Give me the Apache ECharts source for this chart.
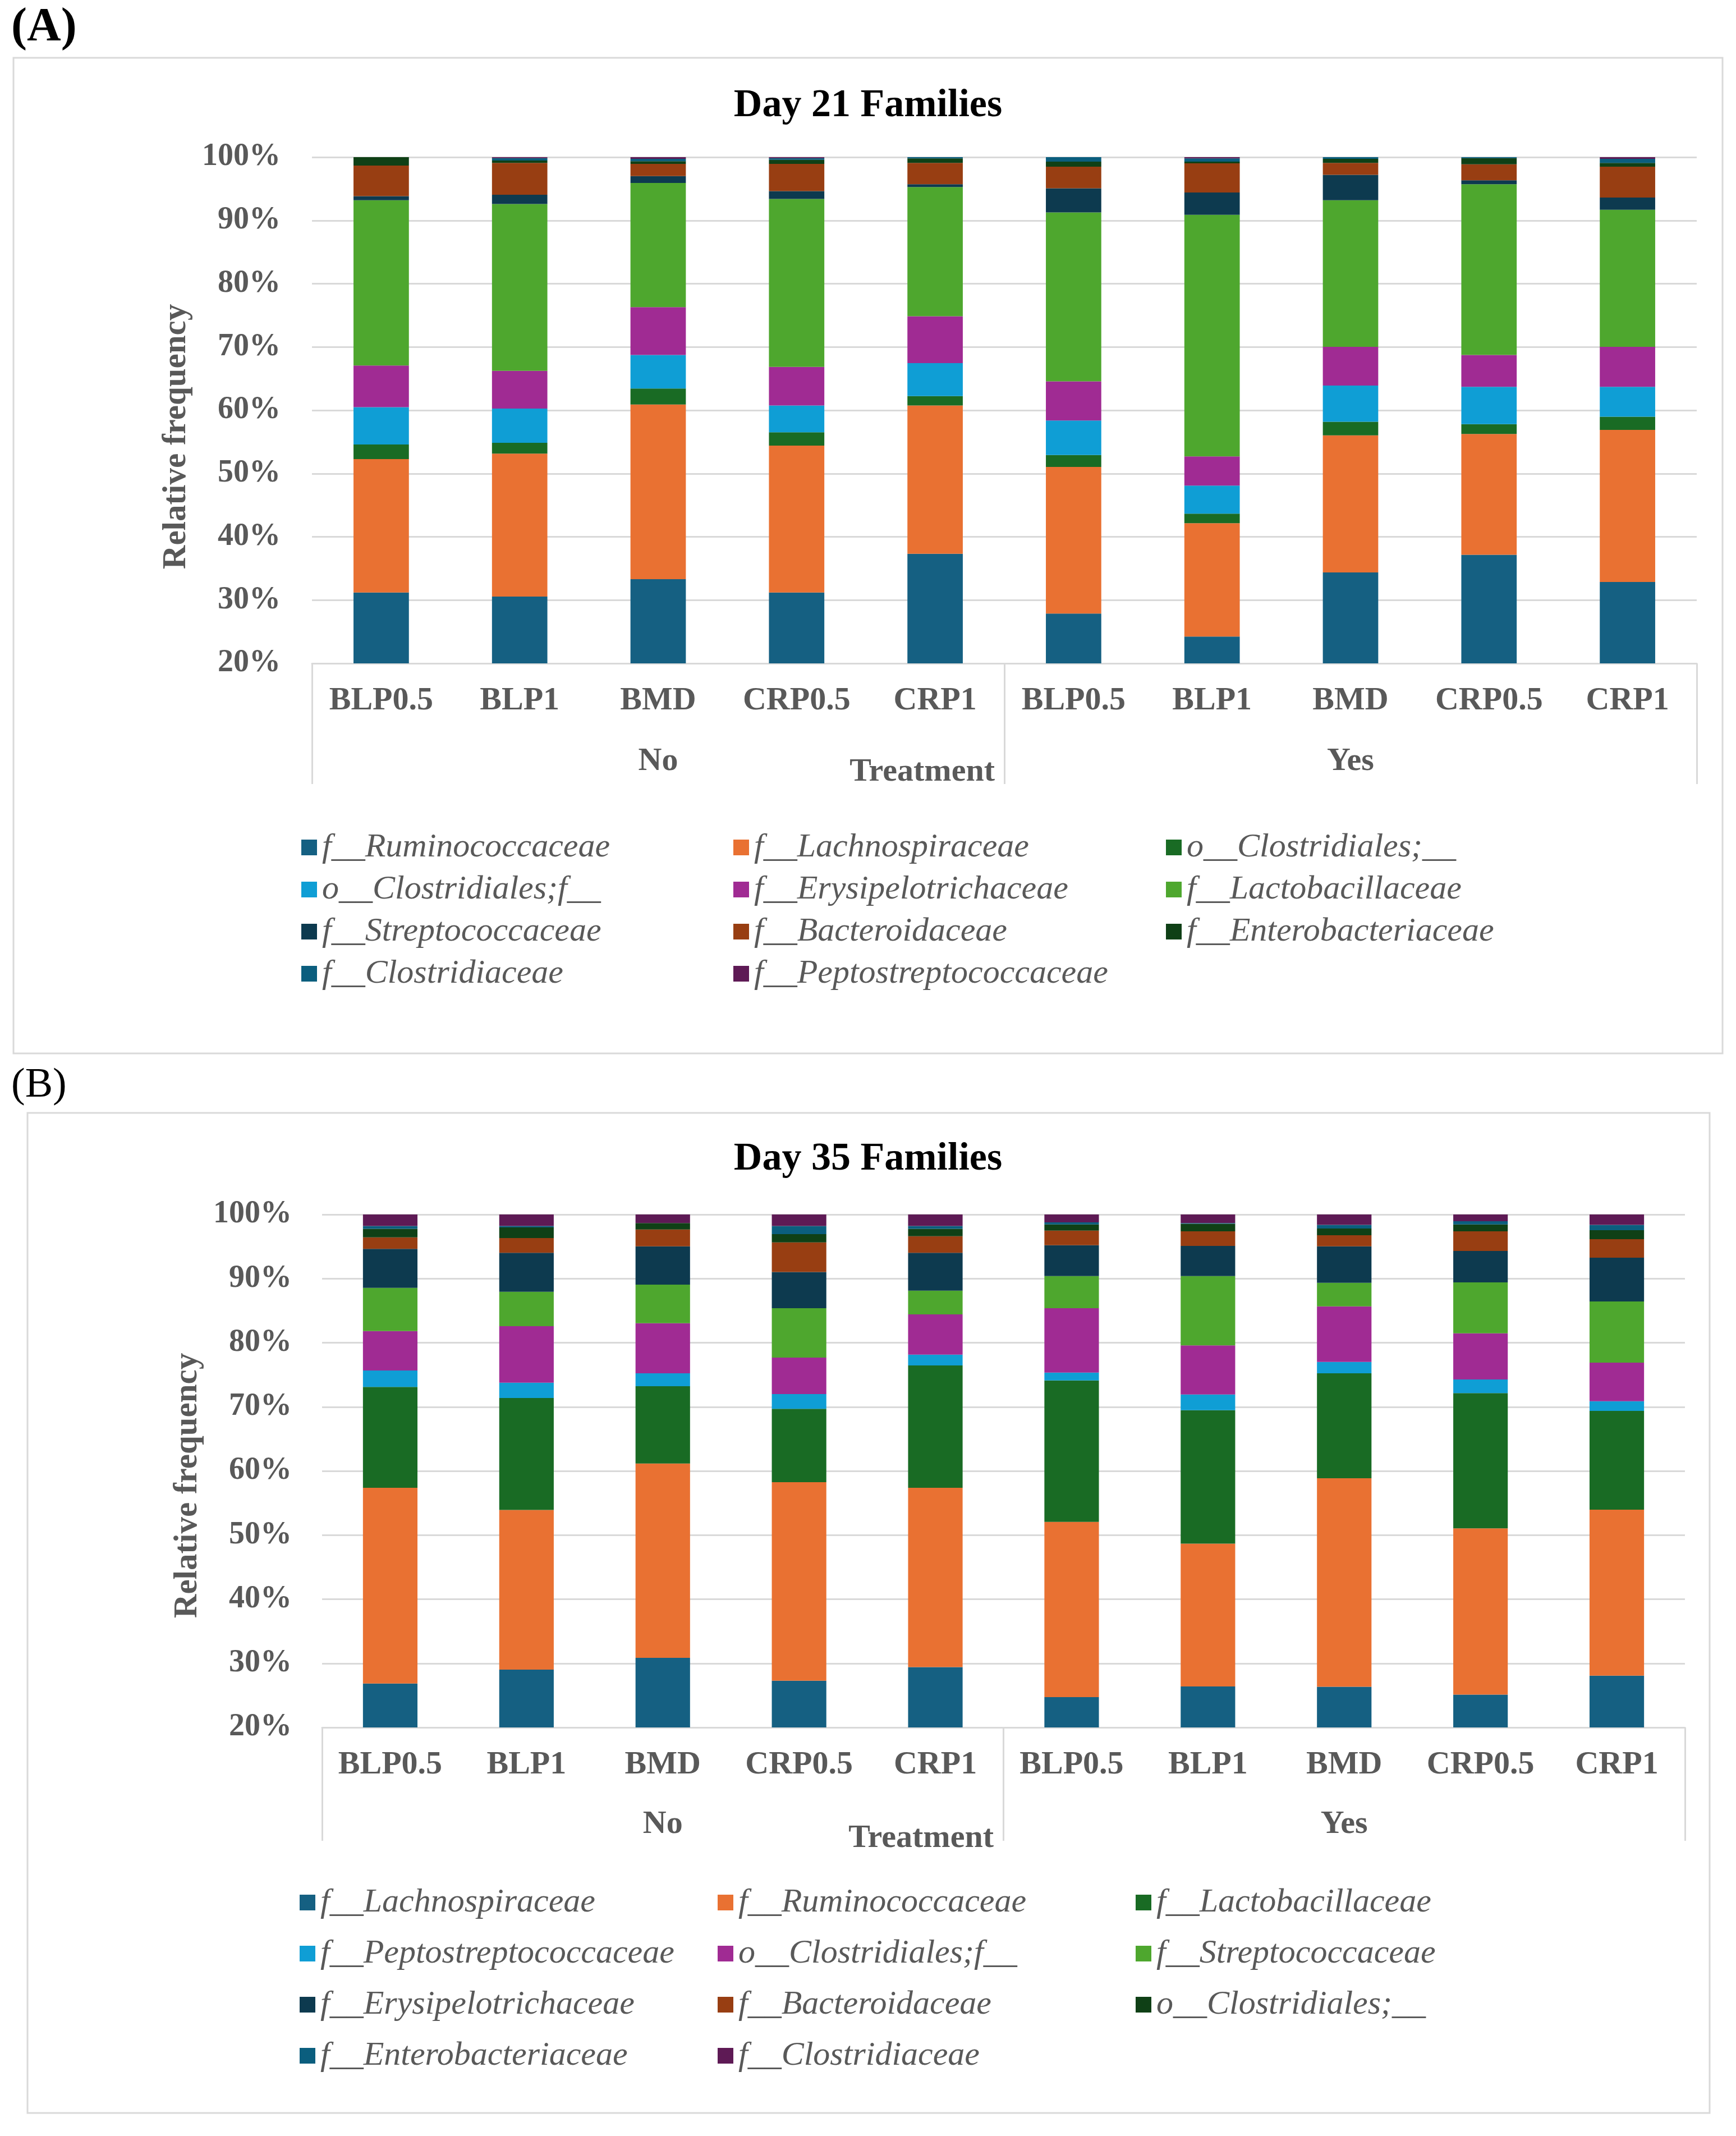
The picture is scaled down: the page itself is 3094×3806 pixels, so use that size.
<!DOCTYPE html>
<html>
<head>
<meta charset="utf-8">
<script src="https://cdn.jsdelivr.net/npm/echarts@6/dist/echarts.min.js"></script>
<style>
  html, body { margin: 0; padding: 0; background: #ffffff; }
  #chartA { position: absolute; left: 0; top: 0; width: 3094px; height: 1890px; }
  #chartB { position: absolute; left: 0; top: 1890px; width: 3094px; height: 1916px; }
</style>
</head>
<body>
<div id="chartA"></div>
<div id="chartB"></div>
<script>
// ---------- DATA ----------
const categories = ['BLP0.5', 'BLP1', 'BMD', 'CRP0.5', 'CRP1', 'BLP0.5', 'BLP1', 'BMD', 'CRP0.5', 'CRP1'];
const groups = ['No', 'Yes'];
const yTicks = [20, 30, 40, 50, 60, 70, 80, 90, 100];

// Panel A: Day 21 Families (stack order bottom -> top)
const seriesNamesA = ['f__Ruminococcaceae', 'f__Lachnospiraceae', 'o__Clostridiales;__', 'o__Clostridiales;f__',
  'f__Erysipelotrichaceae', 'f__Lactobacillaceae', 'f__Streptococcaceae', 'f__Bacteroidaceae',
  'f__Enterobacteriaceae', 'f__Clostridiaceae', 'f__Peptostreptococcaceae'];
const a_Ruminococcaceae = [31.2, 30.56, 33.3, 31.2, 37.32, 27.88, 24.24, 34.37, 37.16, 32.87];
const a_Lachnospiraceae = [21.08, 22.58, 27.61, 23.22, 23.43, 23.17, 17.9, 21.66, 19.09, 24.02];
const a_oClostridiales = [2.3, 1.71, 2.52, 2.09, 1.5, 1.87, 1.51, 2.15, 1.55, 2.09];
const a_oClostridialesF = [5.9, 5.42, 5.31, 4.24, 5.2, 5.47, 4.45, 5.73, 5.9, 4.72];
const a_Erysipelotrichaceae = [6.6, 5.95, 7.56, 6.11, 7.4, 6.17, 4.61, 6.12, 5.04, 6.33];
const a_Lactobacillaceae = [26.11, 26.38, 19.62, 26.54, 20.43, 26.7, 38.17, 23.16, 26.97, 21.66];
const a_Streptococcaceae = [0.64, 1.45, 1.08, 1.24, 0.43, 3.81, 3.54, 4.02, 0.64, 1.93];
const a_Bacteroidaceae = [4.83, 5.04, 1.93, 4.29, 3.38, 3.43, 4.61, 1.88, 2.52, 4.88];
const a_Enterobacteriaceae = [1.34, 0.37, 0.43, 0.64, 0.7, 0.8, 0.27, 0.64, 0.97, 0.59];
const a_Clostridiaceae = [0, 0.38, 0.37, 0.27, 0.21, 0.7, 0.49, 0.27, 0.16, 0.64];
const a_Peptostreptococcaceae = [0, 0.16, 0.27, 0.16, 0, 0, 0.21, 0, 0, 0.27];

// Panel B: Day 35 Families (stack order bottom -> top)
const seriesNamesB = ['f__Lachnospiraceae', 'f__Ruminococcaceae', 'f__Lactobacillaceae', 'f__Peptostreptococcaceae',
  'o__Clostridiales;f__', 'f__Streptococcaceae', 'f__Erysipelotrichaceae', 'f__Bacteroidaceae',
  'o__Clostridiales;__', 'f__Enterobacteriaceae', 'f__Clostridiaceae'];
const b_Lachnospiraceae = [26.84, 29.02, 30.86, 27.29, 29.41, 24.72, 26.4, 26.34, 25.11, 28.07];
const b_Ruminococcaceae = [30.53, 24.89, 30.3, 30.97, 27.96, 27.34, 22.26, 32.53, 25.95, 25.89];
const b_Lactobacillaceae = [15.73, 17.46, 12.05, 11.44, 19.08, 22.05, 20.82, 16.35, 21.09, 15.4];
const b_Peptostreptococcaceae = [2.57, 2.4, 2.01, 2.29, 1.68, 1.22, 2.45, 1.79, 2.12, 1.51];
const b_oClostridialesF = [6.14, 8.82, 7.82, 5.69, 6.3, 10.05, 7.65, 8.65, 7.2, 6.03];
const b_Streptococcaceae = [6.75, 5.36, 6.02, 7.7, 3.68, 5.02, 10.82, 3.68, 7.93, 9.54];
const b_Erysipelotrichaceae = [6.08, 6.08, 5.97, 5.64, 5.92, 4.8, 4.69, 5.69, 4.91, 6.81];
const b_Bacteroidaceae = [1.79, 2.29, 2.63, 4.63, 2.57, 2.29, 2.29, 1.73, 3.07, 2.9];
const b_oClostridiales = [1.34, 1.67, 1.0, 1.28, 1.17, 0.95, 1.17, 1.06, 1.06, 1.39];
const b_Enterobacteriaceae = [0.44, 0.22, 0, 1.28, 0.44, 0.33, 0.11, 0.56, 0.5, 0.84];
const b_Clostridiaceae = [1.79, 1.79, 1.34, 1.79, 1.79, 1.23, 1.34, 1.62, 1.06, 1.62];

const palette = ['#156082', '#E97132', '#196B24', '#0F9ED5', '#A02B93', '#4EA72E',
  '#0D3A4F', '#983E12', '#0F4016', '#0B5E7E', '#5E1A55'];

const valuesA = [a_Ruminococcaceae, a_Lachnospiraceae, a_oClostridiales, a_oClostridialesF, a_Erysipelotrichaceae,
  a_Lactobacillaceae, a_Streptococcaceae, a_Bacteroidaceae, a_Enterobacteriaceae, a_Clostridiaceae, a_Peptostreptococcaceae];
const valuesB = [b_Lachnospiraceae, b_Ruminococcaceae, b_Lactobacillaceae, b_Peptostreptococcaceae, b_oClostridialesF,
  b_Streptococcaceae, b_Erysipelotrichaceae, b_Bacteroidaceae, b_oClostridiales, b_Enterobacteriaceae, b_Clostridiaceae];

// ---------- BUILD ----------
const FONT = "'Liberation Serif', 'Times New Roman', serif";
const GRAY = '#595959';
const LINE = '#d9d9d9';

function build(cfg) {
  const series = cfg.names.map((n, i) => ({
    name: n, type: 'bar', stack: 'total', xAxisIndex: 0, yAxisIndex: 0,
    barCategoryGap: '60%', data: cfg.values[i],
    itemStyle: { color: palette[i] }
  }));
  const legends = cfg.legendCols.map((col, k) => ({
    orient: 'vertical', left: cfg.legendLeft[k], top: cfg.legendTop,
    data: col.map(i => cfg.names[i]), padding: 0,
    itemWidth: 28, itemHeight: 28, itemGap: cfg.legendGap, icon: 'rect', selectedMode: false,
    textStyle: { fontFamily: FONT, fontStyle: 'italic', fontSize: 60, color: GRAY, lineHeight: 60, padding: [0, 0, 0, 4] }
  }));
  return {
    animation: false,
    backgroundColor: '#ffffff',
    textStyle: { fontFamily: FONT },
    title: {
      text: cfg.title, left: 'center', top: cfg.titleTop, padding: 0,
      textStyle: { fontFamily: FONT, fontWeight: 'bold', fontSize: 70, color: '#000000' }
    },
    legend: legends,
    grid: { left: cfg.grid[0], right: cfg.grid[1], top: cfg.grid[2], bottom: cfg.grid[3], containLabel: false },
    xAxis: [{
      type: 'category', data: categories, position: 'bottom',
      axisLine: { show: true, lineStyle: { color: LINE, width: 3 } },
      axisTick: { show: false },
      axisLabel: { interval: 0, margin: 38, fontFamily: FONT, fontWeight: 'bold', fontSize: 58, color: GRAY }
    }, {
      type: 'category', data: groups, position: 'bottom',
      axisLine: { show: false },
      axisTick: { show: true, interval: 0, length: cfg.sepLen, lineStyle: { color: LINE, width: 3 } },
      axisLabel: { interval: 0, margin: cfg.groupMargin, fontFamily: FONT, fontWeight: 'bold', fontSize: 58, color: GRAY }
    }],
    yAxis: {
      type: 'value', min: 20, max: 100, interval: 10,
      axisLine: { show: false }, axisTick: { show: false },
      splitLine: { lineStyle: { color: LINE, width: 3 } },
      axisLabel: { formatter: '{value}%', margin: cfg.yMargin, fontFamily: FONT, fontWeight: 'bold', fontSize: 56, color: GRAY }
    },
    graphic: [
      { type: 'rect', shape: { x: cfg.box[0], y: cfg.box[1], width: cfg.box[2], height: cfg.box[3] },
        style: { fill: 'none', stroke: LINE, lineWidth: 3 }, silent: true },
      { type: 'text', left: 20, top: cfg.tagTop,
        style: { text: cfg.tag, fontFamily: FONT, fontWeight: cfg.tagWeight, fontSize: cfg.tagSize, fill: '#000000' } },
      { type: 'text', x: cfg.yTitle[0], y: cfg.yTitle[1], rotation: Math.PI / 2,
        style: { text: 'Relative frequency', fontFamily: FONT, fontWeight: 'bold', fontSize: 59, fill: GRAY,
          textAlign: 'center', textVerticalAlign: 'middle' } },
      { type: 'text', x: cfg.treat[0], y: cfg.treat[1],
        style: { text: 'Treatment', fontFamily: FONT, fontWeight: 'bold', fontSize: 58, fill: GRAY,
          textAlign: 'right', textVerticalAlign: 'middle' } }
    ],
    series: series
  };
}

const chartA = echarts.init(document.getElementById('chartA'));
chartA.setOption(build({
  title: 'Day 21 Families', titleTop: 154,
  names: seriesNamesA, values: valuesA,
  grid: [556, 70, 280, 708],
  yMargin: 56, sepLen: 215, groupMargin: 146,
  box: [24, 103, 3046, 1774],
  tag: '(A)', tagTop: 8, tagWeight: 'bold', tagSize: 84,
  yTitle: [315, 778], treat: [1773, 1376],
  legendCols: [[0, 3, 6, 9], [1, 4, 7, 10], [2, 5, 8]],
  legendLeft: [537, 1307, 2078], legendTop: 1480, legendGap: 15
}));

const chartB = echarts.init(document.getElementById('chartB'));
chartB.setOption(build({
  title: 'Day 35 Families', titleTop: 141,
  names: seriesNamesB, values: valuesB,
  grid: [574, 91, 274, 728],
  yMargin: 54, sepLen: 202, groupMargin: 144,
  box: [49, 93, 2998, 1782],
  tag: '(B)', tagTop: 8, tagWeight: 'normal', tagSize: 74,
  yTitle: [335, 757], treat: [1771, 1386],
  legendCols: [[0, 3, 6, 9], [1, 4, 7, 10], [2, 5, 8]],
  legendLeft: [534, 1279, 2024], legendTop: 1470, legendGap: 31
}));
</script>
</body>
</html>
